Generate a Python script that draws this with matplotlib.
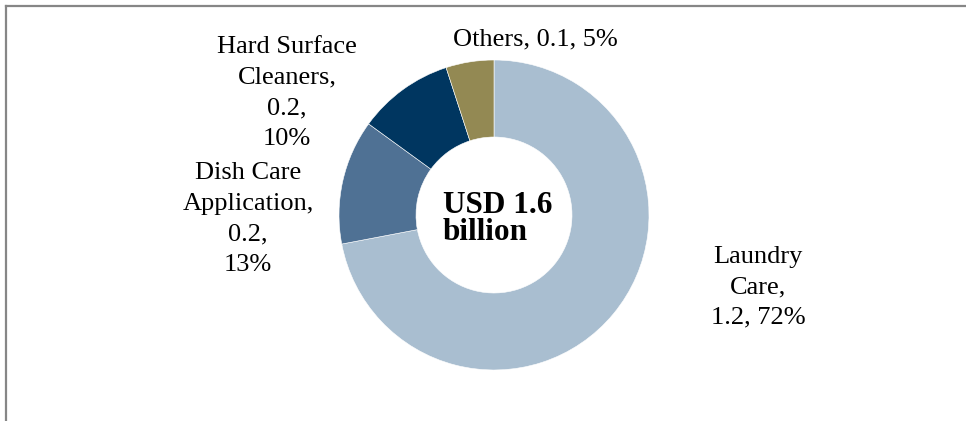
import matplotlib
matplotlib.use("Agg")
import matplotlib.pyplot as plt
from matplotlib.lines import Line2D

# dados do grafico
categorias = ["Laundry Care", "Dish Care Application", "Hard Surface Cleaners", "Others"]
valores = [1.2, 0.2, 0.2, 0.1]
percentuais = [72, 13, 10, 5]
rotulos = [
    "Laundry\nCare,\n1.2, 72%",
    "Dish Care\nApplication,\n0.2,\n13%",
    "Hard Surface\nCleaners,\n0.2,\n10%",
    "Others, 0.1, 5%",
]
total_texto = "USD 1.6\nbillion"

cores = ["#A9BED0", "#4F7194", "#003660", "#938953"]
# posicoes dos rotulos em pixels (x, y a partir do topo)
pos_rotulos = [(758, 287), (248, 219), (287, 93), (535, 39)]

W, H = 966, 421
plt.rcParams["font.family"] = ["Liberation Serif", "DejaVu Serif"]

fig = plt.figure(figsize=(W / 100, H / 100), dpi=100)
ax = fig.add_axes([0, 0, 1, 1])

ax.pie(percentuais, colors=cores, startangle=90, counterclock=False,
       center=(494, H - 215), radius=155,
       wedgeprops=dict(width=77, edgecolor="white", linewidth=0.4))

for texto, (x, y) in zip(rotulos, pos_rotulos):
    ax.text(x, H - y, texto, ha="center", va="center", fontsize=19,
            linespacing=1.5, color="black")

ax.text(443, H - 219, total_texto, ha="left", va="center", fontsize=22.5,
        fontweight="bold", linespacing=0.95, color="black")

ax.set_xlim(0, W)
ax.set_ylim(0, H)
ax.set_aspect("equal")
ax.axis("off")

# moldura (topo e esquerda)
cor_borda = "#868686"
fig.add_artist(Line2D([6 / W, 1], [1 - 6 / H, 1 - 6 / H], color=cor_borda, lw=1.6,
                      transform=fig.transFigure))
fig.add_artist(Line2D([6 / W, 6 / W], [0, 1 - 6 / H], color=cor_borda, lw=1.6,
                      transform=fig.transFigure))

fig.savefig("out.png", dpi=100)
